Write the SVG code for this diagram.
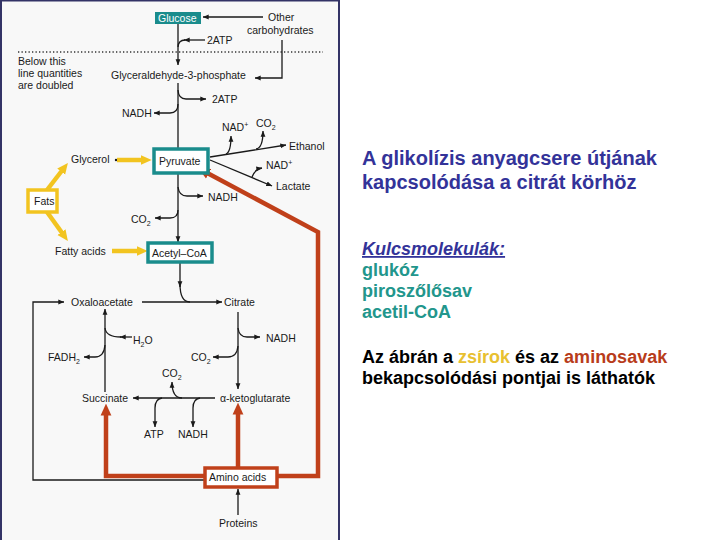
<svg xmlns="http://www.w3.org/2000/svg" width="720" height="540" viewBox="0 0 720 540">
<defs>
<style>
.t{font-family:"Liberation Sans",Arial,sans-serif;font-size:10.5px;fill:#1a1a1a}
.w{font-family:"Liberation Sans",Arial,sans-serif;font-size:10.5px;fill:#ffffff}
.k{fill:none;stroke:#1a1a1a;stroke-width:1.3}
.ka{fill:none;stroke:#1a1a1a;stroke-width:1.3;marker-end:url(#ah)}
.r{fill:none;stroke:#c0401a;stroke-width:4.5;stroke-linejoin:miter}
.ra{fill:none;stroke:#c0401a;stroke-width:4.5;marker-end:url(#rh)}
.ya{fill:none;stroke:#f2c420;stroke-width:4.5;marker-end:url(#yh)}
.tb{fill:#ffffff;stroke:#1a8c8c;stroke-width:3.5}
.h{font-family:"Liberation Sans",Arial,sans-serif;font-weight:bold}
</style>
<marker id="ah" viewBox="0 0 10 10" refX="9.5" refY="5" markerWidth="6" markerHeight="6" markerUnits="userSpaceOnUse" orient="auto"><path d="M0,1 L10,5 L0,9 z" fill="#1a1a1a"/></marker>
<marker id="rh" viewBox="0 0 10 10" refX="3" refY="5" markerWidth="12" markerHeight="12" markerUnits="userSpaceOnUse" orient="auto"><path d="M0,0.5 L10,5 L0,9.5 z" fill="#c0401a"/></marker>
<marker id="yh" viewBox="0 0 10 10" refX="3" refY="5" markerWidth="11" markerHeight="11" markerUnits="userSpaceOnUse" orient="auto"><path d="M0,0.5 L10,5 L0,9.5 z" fill="#f2c420"/></marker>
</defs>
<rect x="0" y="0" width="720" height="540" fill="#ffffff"/>
<rect x="1" y="0.5" width="338" height="541" fill="#f8f8f8" stroke="#333366" stroke-width="2"/>

<g id="connectors">
<line x1="18" y1="52" x2="323" y2="52" stroke="#333" stroke-width="1.3" stroke-dasharray="1.3 2.2"/>
<line class="ka" x1="263" y1="17" x2="203" y2="17"/>
<path class="ka" d="M282,40 L282,78 L255,78"/>
<line class="ka" x1="178" y1="24" x2="178" y2="65"/>
<line class="ka" x1="205" y1="40" x2="184" y2="40"/>
<path class="k" d="M185,40 Q178.5,40 178,47"/>
<line class="k" x1="178" y1="83" x2="178" y2="149"/>
<path class="ka" d="M178,90 Q178.5,99 186,99 L206,99"/>
<path class="ka" d="M178,104 Q178,113 170,113 L154,113"/>
<line class="ka" x1="210" y1="157" x2="286" y2="145"/>
<path class="ka" d="M226,154 Q231,152 231,136"/>
<path class="ka" d="M256,149 Q263,148 263,131"/>
<line class="ka" x1="210" y1="160" x2="272" y2="186"/>
<path class="ka" d="M252,177 Q255,169 262,168"/>
<line class="ka" x1="178" y1="173" x2="178" y2="242"/>
<path class="ka" d="M178,187 Q179,196 187,196 L203,196"/>
<path class="ka" d="M178,210 Q178,218 170,218 L155,218"/>
<circle cx="116" cy="160" r="1.2" fill="#1a1a1a"/>
<path class="ya" d="M117,160 L144,160"/>
<path class="ya" d="M112,251 L140,251"/>
<path class="ya" d="M47,190 L63.2,169"/>
<path class="ya" d="M47,212 L63.4,234.8"/>
<line class="ka" x1="180" y1="262" x2="180" y2="287"/>
<path class="k" d="M180,284 Q180,302 190,302"/>
<line class="ka" x1="142" y1="302" x2="222" y2="302"/>
<path class="ka" d="M205,480 L33,480 L33,302 L64,302"/>
<line class="ka" x1="238" y1="312" x2="238" y2="389"/>
<path class="ka" d="M238,328 Q239,337 247,337 L260,337"/>
<path class="ka" d="M238,346 Q237,357 228,357 L213,357"/>
<line class="ka" x1="215" y1="398" x2="133" y2="398"/>
<path class="ka" d="M182,398 Q172,398 172,382"/>
<path class="ka" d="M162,398 Q155,399 155,408 L155,427"/>
<path class="ka" d="M200,398 Q193,399 193,408 L193,427"/>
<line class="ka" x1="105" y1="392" x2="105" y2="309"/>
<line class="ka" x1="132" y1="337" x2="120" y2="337"/>
<path class="k" d="M121,337 Q106,337 105,328"/>
<path class="ka" d="M105,345 Q104,357 95,357 L84,357"/>
<path class="ra" d="M205,476 L106,476 L106,412"/>
<path class="ra" d="M238,468 L238,411"/>
<path class="ra" d="M277,476 L318,476 L318,232 L205.4,172"/>
<line class="ka" x1="238" y1="515" x2="238" y2="489"/>
</g>

<g id="glucose"><rect x="155" y="12" width="46" height="12" fill="#1a8c8c"/><text class="w" x="158" y="21.5" font-size="10">Glucose</text></g>
<g id="other-carbohydrates"><text class="t" x="268" y="21">Other</text><text class="t" x="247" y="34">carbohydrates</text></g>
<g id="note"><text class="t" x="18" y="65">Below this</text><text class="t" x="18" y="77">line quantities</text><text class="t" x="18" y="89">are doubled</text></g>
<g id="atp1"><text class="t" x="207" y="44">2ATP</text></g>
<g id="g3p"><text class="t" x="111" y="79">Glyceraldehyde-3-phosphate</text></g>
<g id="atp2"><text class="t" x="212" y="103">2ATP</text></g>
<g id="nadh1"><text class="t" x="122" y="117">NADH</text></g>
<g id="nad1"><text class="t" x="222" y="131">NAD<tspan font-size="7" dy="-4">+</tspan></text></g>
<g id="co2-1"><text class="t" x="256" y="127">CO<tspan font-size="7" dy="3">2</tspan></text></g>
<g id="ethanol"><text class="t" x="289" y="150">Ethanol</text></g>
<g id="nad2"><text class="t" x="266" y="169">NAD<tspan font-size="7" dy="-4">+</tspan></text></g>
<g id="lactate"><text class="t" x="276" y="190">Lactate</text></g>
<g id="pyruvate"><rect class="tb" x="154" y="149" width="54" height="24"/><text class="t" x="159" y="165">Pyruvate</text></g>
<g id="glycerol"><text class="t" x="71" y="163">Glycerol</text></g>
<g id="fats"><rect x="28" y="190" width="29" height="22" fill="#ffffff" stroke="#f2c420" stroke-width="3.5"/><text class="t" x="34" y="205">Fats</text></g>
<g id="nadh2"><text class="t" x="208" y="201">NADH</text></g>
<g id="co2-2"><text class="t" x="131" y="223">CO<tspan font-size="7" dy="3">2</tspan></text></g>
<g id="fatty-acids"><text class="t" x="55" y="255">Fatty acids</text></g>
<g id="acetyl-coa"><rect class="tb" x="148" y="243" width="64" height="19"/><text class="t" x="152" y="257">Acetyl–CoA</text></g>
<g id="oxaloacetate"><text class="t" x="71" y="306">Oxaloacetate</text></g>
<g id="citrate"><text class="t" x="224" y="306">Citrate</text></g>
<g id="nadh3"><text class="t" x="266" y="342">NADH</text></g>
<g id="h2o"><text class="t" x="133" y="344">H<tspan font-size="7" dy="3">2</tspan><tspan dy="-3">O</tspan></text></g>
<g id="fadh2"><text class="t" x="48" y="361">FADH<tspan font-size="7" dy="3">2</tspan></text></g>
<g id="co2-3"><text class="t" x="191" y="361">CO<tspan font-size="7" dy="3">2</tspan></text></g>
<g id="co2-4"><text class="t" x="162" y="377">CO<tspan font-size="7" dy="3">2</tspan></text></g>
<g id="succinate"><text class="t" x="82" y="402">Succinate</text></g>
<g id="ketoglutarate"><text class="t" x="220" y="402">α-ketoglutarate</text></g>
<g id="atp3"><text class="t" x="144" y="438">ATP</text></g>
<g id="nadh4"><text class="t" x="178" y="438">NADH</text></g>
<g id="amino-acids"><rect x="205" y="468" width="72" height="19" fill="#ffffff" stroke="#c0401a" stroke-width="3.5"/><text class="t" x="209" y="481">Amino acids</text></g>
<g id="proteins"><text class="t" x="219" y="527">Proteins</text></g>

<g id="right-text">
<text class="h" x="362" y="165" font-size="20" fill="#333399">A glikolízis anyagcsere útjának</text>
<text class="h" x="362" y="189" font-size="20" fill="#333399">kapcsolódása a citrát körhöz</text>
<text class="h" x="362" y="255" font-size="18" font-style="italic" fill="#333399" text-decoration="underline">Kulcsmolekulák:</text>
<text class="h" x="362" y="276" font-size="18" fill="#22968c">glukóz</text>
<text class="h" x="362" y="297" font-size="18" fill="#22968c">piroszőlősav</text>
<text class="h" x="362" y="318" font-size="18" fill="#22968c">acetil-CoA</text>
<text class="h" x="362" y="363" font-size="18" fill="#000000">Az ábrán a <tspan fill="#e8c030">zsírok</tspan> és az <tspan fill="#b83c1a">aminosavak</tspan></text>
<text class="h" x="362" y="384" font-size="18" fill="#000000">bekapcsolódási pontjai is láthatók</text>
</g>
</svg>
